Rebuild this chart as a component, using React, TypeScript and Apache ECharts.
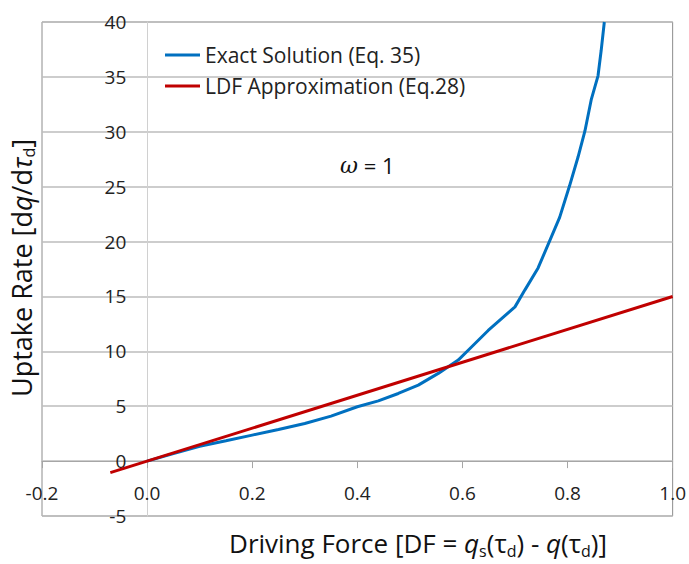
import React, { useEffect, useRef } from "react";
import * as echarts from "echarts";

const exactSolution: [number, number][] = [
  [0, 0], [0.05, 0.68], [0.1, 1.35], [0.15, 1.85], [0.2, 2.37], [0.25, 2.88],
  [0.3, 3.43], [0.35, 4.1], [0.4, 4.95], [0.44, 5.49], [0.478, 6.16], [0.516, 6.92],
  [0.554, 7.99], [0.592, 9.2], [0.611, 10.1], [0.649, 11.9], [0.7, 14.05],
  [0.719, 15.6], [0.744, 17.6], [0.766, 20.06], [0.785, 22.2], [0.804, 25.1],
  [0.82, 27.7], [0.833, 30.05], [0.845, 32.9], [0.858, 35.1], [0.864, 37.4], [0.87, 40],
];
const ldfApprox: [number, number][] = [[-0.07, -1.05], [1.0, 15]];
const seriesNames = ["Exact Solution (Eq. 35)", "LDF Approximation (Eq.28)"];
const xRange = { min: -0.2, max: 1.0, interval: 0.2 };
const yRange = { min: -5, max: 40, interval: 5 };

const FONT = "'Open Sans', 'Noto Sans', sans-serif";

const W = 689, H = 564;
const G = { left: 42, right: 15, top: 22, bottom: 48 };

export default function App() {
  const ref = useRef<HTMLDivElement>(null);
  useEffect(() => {
    if (!ref.current) return;
    const chart = echarts.init(ref.current, undefined, { renderer: "svg" });
    const gw = W - G.left - G.right;
    const gh = H - G.top - G.bottom;
    // distance of the zero lines from the grid edges
    const xZeroOffset = -(gh * (0 - yRange.min)) / (yRange.max - yRange.min);
    const yZeroOffset = -(gw * (0 - xRange.min)) / (xRange.max - xRange.min);
    chart.setOption({
      animation: false,
      backgroundColor: "#ffffff",
      grid: {
        ...G,
        show: true, borderColor: "#8c8c8c", borderWidth: 1, backgroundColor: "transparent",
      },
      legend: {
        orient: "vertical",
        left: 160,
        top: 39,
        icon: "rect",
        itemWidth: 35,
        itemHeight: 3,
        itemGap: 9,
        textStyle: { fontFamily: FONT, fontSize: 21, color: "#222", lineHeight: 22 },
        data: seriesNames,
      },
      xAxis: {
        type: "value",
        position: "bottom",
        offset: xZeroOffset,
        min: xRange.min, max: xRange.max, interval: xRange.interval,
        axisLine: { show: true, onZero: false, lineStyle: { color: "#a6a6a6", width: 1 } },
        axisTick: { show: true, length: 7, lineStyle: { color: "#a6a6a6" } },
        splitLine: { show: false },
        axisLabel: {
          margin: 22, fontSize: 19, fontFamily: FONT, color: "#222",
          formatter: (v: number) => (Math.abs(v) < 1e-9 ? 0 : v).toFixed(1),
        },
      },
      yAxis: {
        type: "value",
        position: "left",
        offset: yZeroOffset,
        min: yRange.min, max: yRange.max, interval: yRange.interval,
        axisLine: { show: true, onZero: false, lineStyle: { color: "#d0d0d0", width: 1 } },
        axisTick: { show: false },
        splitLine: { show: true, lineStyle: { color: "#bdbdbd", width: 1.5 } },
        axisLabel: { margin: 21, fontSize: 19, fontFamily: FONT, color: "#222" },
      },
      series: [
        {
          name: seriesNames[0], type: "line", data: exactSolution,
          showSymbol: false, smooth: false,
          lineStyle: { color: "#0070c0", width: 3 }, itemStyle: { color: "#0070c0" },
        },
        {
          name: seriesNames[1], type: "line", data: ldfApprox,
          showSymbol: false,
          lineStyle: { color: "#c00000", width: 3 }, itemStyle: { color: "#c00000" },
        },
      ],
      graphic: [
        {
          type: "text", x: 418, y: 543,
          style: {
            text: "Driving Force [DF = {i|q}{s|s}(τ{s|d}) - {i|q}(τ{s|d})]",
            font: `26px ${FONT}`, fill: "#111", align: "center", verticalAlign: "middle",
            lineHeight: 32,
            rich: {
              i: { fontStyle: "italic", fontSize: 26, fontFamily: FONT, lineHeight: 32 },
              s: { fontSize: 16, fontFamily: FONT, lineHeight: 16, verticalAlign: "bottom" },
            },
          },
        },
        {
          type: "text", x: 21, y: 268, rotation: Math.PI / 2,
          style: {
            text: "Uptake Rate [d{i|q}/d{i|τ}{s|d}]",
            font: `27px ${FONT}`, fill: "#111", align: "center", verticalAlign: "middle",
            lineHeight: 32,
            rich: {
              i: { fontStyle: "italic", fontSize: 27, fontFamily: FONT, lineHeight: 32 },
              s: { fontSize: 16, fontFamily: FONT, lineHeight: 16, verticalAlign: "bottom" },
            },
          },
        },
        {
          type: "text", x: 340, y: 165,
          style: {
            text: "{w|ω} = 1",
            font: `22px ${FONT}`, fill: "#111", align: "left", verticalAlign: "middle",
            rich: {
              w: { fontStyle: "italic", fontFamily: "'DejaVu Serif', serif", fontSize: 22 },
            },
          },
        },
      ],
    });
    return () => chart.dispose();
  }, []);
  return (
    <div
      ref={ref}
      style={{ width: W, height: H, position: "absolute", left: 0, top: 0 }}
    />
  );
}
